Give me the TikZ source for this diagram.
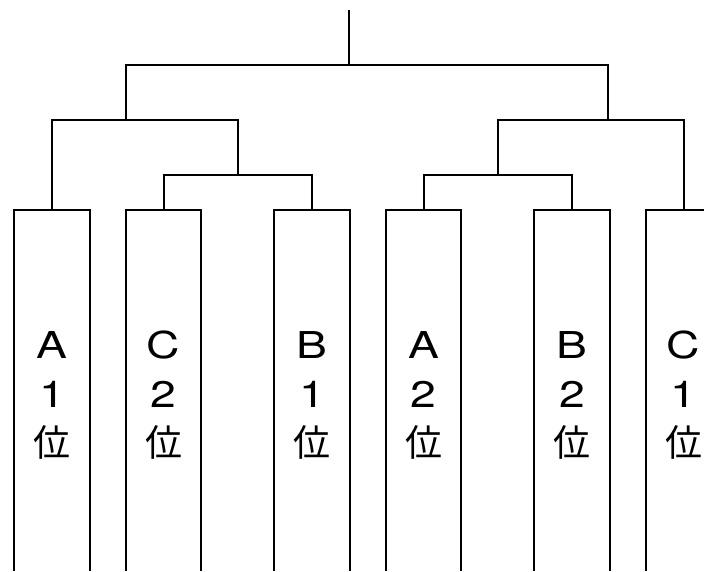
\documentclass[tikz,border=0pt]{standalone}
\usepackage{fontspec}
\setmainfont{TeX Gyre Heros}[FakeStretch=1.25]
\newfontfamily\jpfont{Noto Sans CJK JP}
\newcommand{\rank}[2]{#1\\#2\\{\jpfont 位}}
\begin{document}
\begin{tikzpicture}[
    x=1pt, y=-1pt,
    line/.style={line width=2pt},
    team/.style={rectangle, anchor=north, minimum width=75pt, minimum height=370pt,
                 inner sep=0pt, align=center, font=\fontsize{37}{49}\selectfont}
]
\clip (0,0) rectangle (704,571);

% Blocks
\node[team] (box1) at (52,210)    {\rank{A}{1}};
\node[team] (box2) at (163.5,210) {\rank{C}{2}};
\node[team] (box3) at (312,210)   {\rank{B}{1}};
\node[team] (box4) at (423.5,210) {\rank{A}{2}};
\node[team] (box5) at (572,210)   {\rank{B}{2}};
\node[team] (box6) at (683.5,210) {\rank{C}{1}};

% Block outlines, open at the bottom
\foreach \b in {box1,box2,box3,box4,box5,box6}
  \draw[line] (\b.north west) ++(0,361) -- (\b.north west) -- (\b.north east) -- ++(0,361);

% Junctions
\coordinate (top)  at (349,10);
\coordinate (root) at (349,65);
\coordinate (semiL) at (126,120);
\coordinate (semiR) at (608,120);
\coordinate (qtrL) at (237.5,175);
\coordinate (qtrR) at (497.5,175);

% Left side
\draw[line] (box2.north) |- (qtrL) -| (box3.north);
\draw[line] (box1.north) |- (semiL) -| (qtrL);

% Right side
\draw[line] (box4.north) |- (qtrR) -| (box5.north);
\draw[line] (qtrR) |- (semiR) -| (box6.north);

% Final
\draw[line] (semiL) |- (root) -| (semiR);
\draw[line] (root) -- (top);
\end{tikzpicture}
\end{document}
